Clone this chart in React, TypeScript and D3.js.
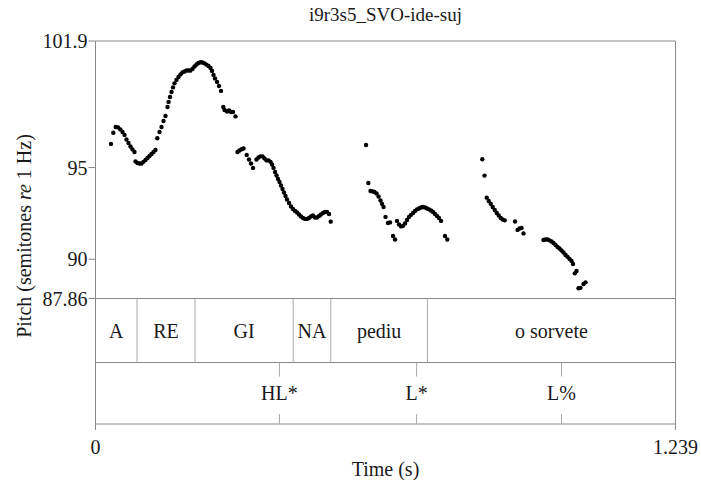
import React from 'react';
import * as d3 from 'd3';

const W = 701;
const H = 480;

const titleText = 'i9r3s5_SVO-ide-suj';
const yTickValues = [101.9, 95, 90, 87.86];
const yTickLabels = ['101.9', '95', '90', '87.86'];
const xTickValues = [0, 1.239];
const xTickLabels = ['0', '1.239'];

const pitchTimes = [
  // A RE GI
  0.0331, 0.0380, 0.0432, 0.0481, 0.0530, 0.0577, 0.0620, 0.0662, 0.0705, 0.0748, 0.0790, 0.0833,
  0.0855, 0.0897, 0.0940, 0.0983, 0.1025, 0.1068, 0.1111, 0.1154, 0.1196, 0.1239, 0.1282,
  0.1320, 0.1367, 0.1410, 0.1453, 0.1495, 0.1538, 0.1560, 0.1592, 0.1624, 0.1656, 0.1688,
  0.1730, 0.1773, 0.1816, 0.1859, 0.1901, 0.1944, 0.1987, 0.2029, 0.2072, 0.2115, 0.2158,
  0.2200, 0.2243, 0.2286, 0.2329, 0.2371, 0.2414, 0.2457, 0.2489, 0.2521, 0.2553, 0.2596,
  0.2638, 0.2681, 0.2730, 0.2756, 0.2809, 0.2852, 0.2895, 0.2937, 0.2991,
  // GI NA
  0.3034, 0.3076, 0.3119, 0.3162, 0.3230, 0.3279, 0.3322, 0.3365, 0.3439, 0.3482, 0.3525,
  0.3568, 0.3610, 0.3653, 0.3696, 0.3739, 0.3771, 0.3803, 0.3835, 0.3867, 0.3899, 0.3931,
  0.3963, 0.3995, 0.4027, 0.4059, 0.4091, 0.4134, 0.4176, 0.4219, 0.4262, 0.4305, 0.4347,
  0.4390, 0.4433, 0.4476, 0.4518, 0.4561, 0.4604, 0.4646, 0.4689, 0.4732, 0.4775, 0.4817,
  0.4860, 0.4903, 0.4945, 0.4988, 0.5025,
  // pediu
  0.5779, 0.5828, 0.5875, 0.5918, 0.5960, 0.6003, 0.6046, 0.6088, 0.6121, 0.6153, 0.6195,
  0.6249, 0.6292, 0.6356, 0.6398, 0.6441, 0.6484, 0.6526, 0.6569, 0.6612, 0.6655, 0.6697,
  0.6740, 0.6783, 0.6825, 0.6868, 0.6911, 0.6954, 0.6996, 0.7039, 0.7082, 0.7124, 0.7167,
  0.7210, 0.7253, 0.7295, 0.7338, 0.7381, 0.7466, 0.7515,
  // o sorvete
  0.8263, 0.8310, 0.8357, 0.8400, 0.8443, 0.8485, 0.8528, 0.8571, 0.8614, 0.8656, 0.8699,
  0.8742, 0.8962, 0.9015, 0.9058, 0.9101, 0.9143, 0.9571, 0.9613, 0.9656, 0.9699, 0.9742,
  0.9784, 0.9827, 0.9870, 0.9912, 0.9955, 0.9998, 1.0041, 1.0083, 1.0126, 1.0169, 1.0201,
  1.0239, 1.0276, 1.0318, 1.0361, 1.0425, 1.0468,
];

const pitchValues = [
  // A RE GI
  96.29, 96.90, 97.21, 97.19, 97.08, 96.94, 96.78, 96.53, 96.34, 96.15, 95.99, 95.85,
  95.33, 95.25, 95.22, 95.22, 95.31, 95.41, 95.52, 95.63, 95.74, 95.85, 95.96,
  96.60, 96.94, 97.21, 97.54, 97.81, 98.30, 98.58, 98.85, 99.12, 99.37, 99.59,
  99.78, 99.94, 100.08, 100.19, 100.24, 100.29, 100.29, 100.29, 100.38, 100.51, 100.62,
  100.70, 100.74, 100.73, 100.68, 100.61, 100.54, 100.43, 100.27, 100.05, 99.86, 99.67,
  99.45, 99.18, 98.30, 98.14, 98.06, 98.11, 98.03, 98.03, 97.79,
  // GI NA
  95.85, 95.93, 96.00, 96.04, 95.69, 95.44, 95.22, 94.98, 95.44, 95.55, 95.61,
  95.61, 95.50, 95.39, 95.39, 95.31, 95.17, 94.98, 94.76, 94.57, 94.38, 94.21,
  94.02, 93.83, 93.64, 93.45, 93.26, 93.07, 92.88, 92.74, 92.63, 92.55, 92.44,
  92.33, 92.25, 92.20, 92.20, 92.25, 92.33, 92.39, 92.28, 92.28, 92.36, 92.44,
  92.52, 92.58, 92.58, 92.47, 92.05,
  // pediu
  96.23, 94.16, 93.72, 93.70, 93.67, 93.59, 93.42, 93.21, 93.02, 92.85, 92.31,
  91.98, 92.01, 91.27, 91.08, 92.09, 91.90, 91.79, 91.82, 91.95, 92.14, 92.31,
  92.42, 92.52, 92.63, 92.72, 92.77, 92.82, 92.85, 92.82, 92.77, 92.72, 92.66,
  92.58, 92.47, 92.36, 92.25, 92.09, 91.27, 91.08,
  // o sorvete
  95.45, 94.56, 93.36, 93.18, 93.02, 92.85, 92.69, 92.52, 92.39, 92.25, 92.17,
  92.12, 92.06, 91.60, 91.68, 91.71, 91.41, 91.05, 91.08, 91.08, 91.03, 90.97,
  90.89, 90.78, 90.67, 90.59, 90.48, 90.37, 90.23, 90.13, 90.02, 89.91, 89.74,
  89.23, 89.36, 88.42, 88.44, 88.65, 88.74,
];

const wordBounds = [0, 0.0887, 0.2126, 0.4223, 0.5027, 0.709, 1.239];
const wordLabels = ['A', 'RE', 'GI', 'NA', 'pediu', 'o sorvete'];
const toneTimes = [0.3929, 0.686, 0.9955];
const toneLabels = ['HL*', 'L*', 'L%'];

const FONT = '"Liberation Serif", "Times New Roman", serif';
const TEXT = '#1a1a1a';
const LINE = '#8a8a8a';
const LIGHT = '#a8a8a8';

export default function App() {
  const left = 95.5;
  const right = 675.5;
  const top = 41;
  const pitchBottom = 298.5;
  const tier1Bottom = 362.5;
  const tier2Bottom = 424;
  const fs = 20;

  const x = d3.scaleLinear().domain([0, 1.239]).range([left, right]);
  const y = d3.scaleLinear().domain([87.86, 101.9]).range([pitchBottom, top]);

  const pts = pitchTimes.map((t, i) => [t, pitchValues[i]] as [number, number]);
  const tierMid = (pitchBottom + tier1Bottom) / 2;
  const tier2Mid = (tier1Bottom + tier2Bottom) / 2;

  return (
    <svg width={W} height={H} style={{ position: 'absolute', left: 0, top: 0, background: '#fff' }} fontFamily={FONT}>
      <rect x={0} y={0} width={W} height={H} fill="#fff" />
      <text x={(left + right) / 2} y={14} fontSize={19} fill={TEXT} textAnchor="middle" dominantBaseline="central">
        {titleText}
      </text>

      {/* frame */}
      <line x1={left} x2={right} y1={top} y2={top} stroke={LINE} />
      <line x1={left} x2={left} y1={top} y2={tier2Bottom} stroke={LINE} />
      <line x1={right} x2={right} y1={top} y2={tier2Bottom} stroke={LINE} />
      <line x1={left} x2={right} y1={pitchBottom} y2={pitchBottom} stroke={LINE} />
      <line x1={left} x2={right} y1={tier1Bottom} y2={tier1Bottom} stroke={LINE} />
      <line x1={left} x2={right} y1={tier2Bottom} y2={tier2Bottom} stroke={LINE} />

      {/* y ticks */}
      {yTickValues.map((v, i) => (
        <g key={'yt' + i}>
          <line x1={left - 7} x2={left} y1={y(v)} y2={y(v)} stroke={LINE} />
          <text x={left - 8} y={y(v)} fontSize={fs} fill={TEXT} textAnchor="end" dominantBaseline="central">
            {yTickLabels[i]}
          </text>
        </g>
      ))}

      {/* x ticks */}
      {xTickValues.map((v, i) => (
        <g key={'xt' + i}>
          <line x1={x(v)} x2={x(v)} y1={tier2Bottom} y2={tier2Bottom + 6} stroke={LINE} />
          <text x={x(v)} y={tier2Bottom + 23} fontSize={fs} fill={TEXT} textAnchor="middle" dominantBaseline="central">
            {xTickLabels[i]}
          </text>
        </g>
      ))}

      <text x={(left + right) / 2} y={469} fontSize={fs} fill={TEXT} textAnchor="middle" dominantBaseline="central">
        Time (s)
      </text>

      <text
        transform={`translate(24, ${236}) rotate(-90)`}
        fontSize={fs}
        fill={TEXT}
        textAnchor="middle"
        dominantBaseline="central"
      >
        Pitch (semitones <tspan fontStyle="italic">re</tspan> 1 Hz)
      </text>

      {/* word tier */}
      {wordBounds.slice(1, -1).map((b, i) => (
        <line key={'wb' + i} x1={x(b)} x2={x(b)} y1={pitchBottom} y2={tier1Bottom} stroke={LIGHT} />
      ))}
      {wordLabels.map((w, i) => (
        <text
          key={'wl' + i}
          x={(x(wordBounds[i]) + x(wordBounds[i + 1])) / 2}
          y={tierMid}
          fontSize={fs}
          fill={TEXT}
          textAnchor="middle"
          dominantBaseline="central"
        >
          {w}
        </text>
      ))}

      {/* tone tier */}
      {toneTimes.map((t, i) => (
        <g key={'tt' + i}>
          <line x1={x(t)} x2={x(t)} y1={tier1Bottom} y2={tier1Bottom + 14} stroke={LIGHT} />
          <line x1={x(t)} x2={x(t)} y1={tier2Bottom - 10} y2={tier2Bottom} stroke={LIGHT} />
          <text x={x(t)} y={tier2Mid} fontSize={fs} fill={TEXT} textAnchor="middle" dominantBaseline="central">
            {toneLabels[i]}
          </text>
        </g>
      ))}

      {/* pitch points */}
      {pts.map(([t, p], i) => (
        <circle key={'p' + i} cx={x(t)} cy={y(p)} r={2.2} fill="#000" />
      ))}
    </svg>
  );
}
